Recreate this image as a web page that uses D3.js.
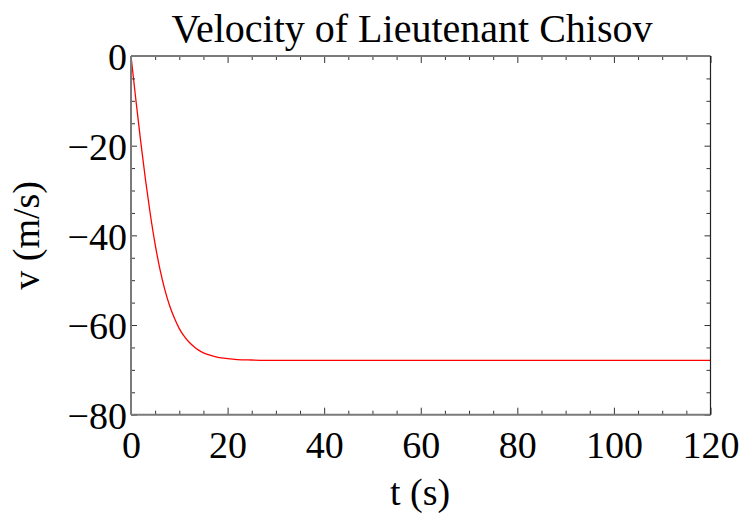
<!DOCTYPE html>
<html>
<head>
<meta charset="utf-8">
<script src="https://cdn.jsdelivr.net/npm/d3@7"></script>
<style>
  html, body { margin: 0; padding: 0; background: #fff; }
  svg { display: block; }
  text { font-family: "Liberation Serif", "Times New Roman", serif; fill: #000; }
</style>
</head>
<body>
<svg id="chart" width="744" height="515"></svg>
<script>
// ---- data ----
const timeS = [0, 1, 2, 3, 4, 5, 6, 7, 8, 9, 10, 11, 12, 13, 14, 15, 16, 18, 20, 22, 25, 30, 40, 50, 60, 70, 80, 90, 100, 110, 120];
const velocityMS = [0, -9.7, -19.0, -27.6, -35.3, -42.0, -47.6, -52.1, -55.7, -58.5, -60.8, -62.5, -63.8, -64.8, -65.6, -66.2, -66.6, -67.2, -67.5, -67.7, -67.8, -67.9, -67.9, -67.9, -67.9, -67.9, -67.9, -67.9, -67.9, -67.9, -67.9];
const xMajorTicks = [0, 20, 40, 60, 80, 100, 120];
const yMajorTicks = [0, -20, -40, -60, -80];
const titleText = "Velocity of Lieutenant Chisov";
const xLabelText = "t (s)";
const yLabelText = "v (m/s)";

// ---- layout ----
const plot = { left: 131, right: 710.5, top: 56, bottom: 414.7 };
const svg = d3.select("#chart");

const x = d3.scaleLinear().domain([0, 120]).range([plot.left, plot.right]);
const y = d3.scaleLinear().domain([-80, 0]).range([plot.bottom, plot.top]);

const xMinor = d3.range(0, 121, 5).filter(v => !xMajorTicks.includes(v));
const yMinor = d3.range(-80, 1, 5).filter(v => !yMajorTicks.includes(v));

const fmt = d => d < 0 ? "\u2212" + Math.abs(d) : String(d);
const tickColor = "#333";
const FONT = '"Liberation Serif", "Times New Roman", serif';

// curve (drawn under the frame)
const line = d3.line().x((d, i) => x(timeS[i])).y(d => y(d)).curve(d3.curveMonotoneX);
svg.append("path")
  .datum(velocityMS)
  .attr("d", line)
  .attr("fill", "none")
  .attr("stroke", "#ff0000")
  .attr("stroke-width", 1.3);

function styleAxis(g) {
  g.select(".domain").remove();
  g.selectAll(".tick line").attr("stroke", tickColor).attr("stroke-width", 1);
  g.selectAll(".tick text")
    .style("font-family", FONT)
    .style("font-size", "38px")
    .attr("fill", "#000");
}

// bottom axis
const gB = svg.append("g").attr("transform", `translate(0,${plot.bottom})`)
  .call(d3.axisBottom(x).tickValues(xMajorTicks).tickFormat(fmt).tickSizeInner(-7).tickSizeOuter(0).tickPadding(16));
styleAxis(gB);
const gBm = svg.append("g").attr("transform", `translate(0,${plot.bottom})`)
  .call(d3.axisBottom(x).tickValues(xMinor).tickFormat("").tickSizeInner(-4).tickSizeOuter(0));
styleAxis(gBm);

// top axis
const gT = svg.append("g").attr("transform", `translate(0,${plot.top})`)
  .call(d3.axisTop(x).tickValues(xMajorTicks).tickFormat("").tickSizeInner(-7).tickSizeOuter(0));
styleAxis(gT);
const gTm = svg.append("g").attr("transform", `translate(0,${plot.top})`)
  .call(d3.axisTop(x).tickValues(xMinor).tickFormat("").tickSizeInner(-4).tickSizeOuter(0));
styleAxis(gTm);

// left axis
const gL = svg.append("g").attr("transform", `translate(${plot.left},0)`)
  .call(d3.axisLeft(y).tickValues(yMajorTicks).tickFormat(fmt).tickSizeInner(-6).tickSizeOuter(0).tickPadding(4));
styleAxis(gL);
gL.selectAll(".tick text").attr("x", -4).attr("dy", "0.36em");
const gLm = svg.append("g").attr("transform", `translate(${plot.left},0)`)
  .call(d3.axisLeft(y).tickValues(yMinor).tickFormat("").tickSizeInner(-4).tickSizeOuter(0));
styleAxis(gLm);

// right axis
const gR = svg.append("g").attr("transform", `translate(${plot.right},0)`)
  .call(d3.axisRight(y).tickValues(yMajorTicks).tickFormat("").tickSizeInner(-6).tickSizeOuter(0));
styleAxis(gR);
const gRm = svg.append("g").attr("transform", `translate(${plot.right},0)`)
  .call(d3.axisRight(y).tickValues(yMinor).tickFormat("").tickSizeInner(-4).tickSizeOuter(0));
styleAxis(gRm);

// frame
svg.append("line").attr("x1", plot.left).attr("x2", plot.right).attr("y1", plot.bottom).attr("y2", plot.bottom)
  .attr("stroke", "#7a7a7a").attr("stroke-width", 2);
svg.append("line").attr("x1", plot.left).attr("x2", plot.right).attr("y1", plot.top).attr("y2", plot.top)
  .attr("stroke", "#7a7a7a").attr("stroke-width", 2);
svg.append("line").attr("x1", plot.left).attr("x2", plot.left).attr("y1", plot.top).attr("y2", plot.bottom)
  .attr("stroke", "#7a7a7a").attr("stroke-width", 2);
svg.append("line").attr("x1", plot.right).attr("x2", plot.right).attr("y1", plot.top).attr("y2", plot.bottom)
  .attr("stroke", "#222").attr("stroke-width", 1.2);

// title and axis labels
svg.append("text").attr("x", 412).attr("y", 42).attr("text-anchor", "middle")
  .style("font-size", "40px").text(titleText);
svg.append("text").attr("x", 420).attr("y", 505).attr("text-anchor", "middle")
  .style("font-size", "38px").text(xLabelText);
svg.append("text").attr("transform", `translate(39,${(plot.top + plot.bottom) / 2}) rotate(-90)`)
  .attr("text-anchor", "middle").style("font-size", "38px").text(yLabelText);
</script>
</body>
</html>
